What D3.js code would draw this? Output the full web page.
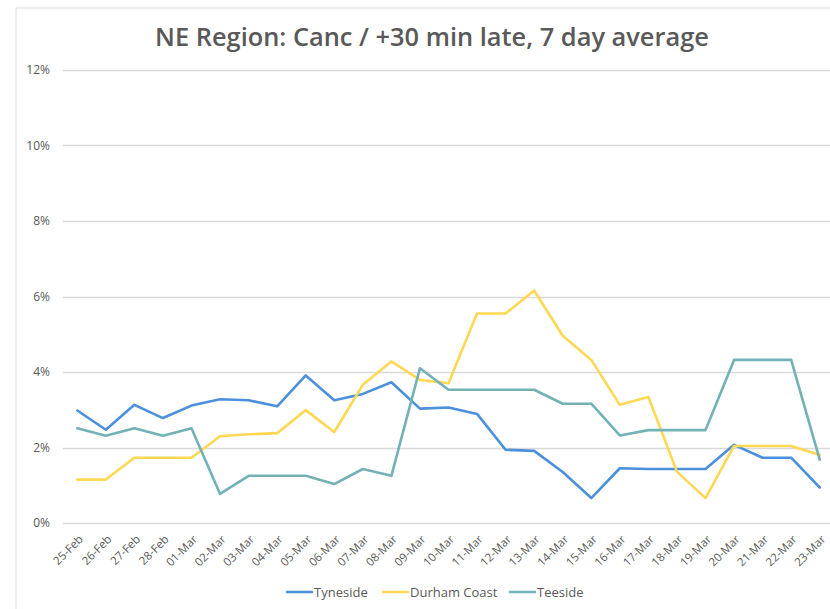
<!DOCTYPE html>
<html>
<head>
<meta charset="utf-8">
<script src="https://cdn.jsdelivr.net/npm/d3@7"></script>
<style>
  html, body { margin: 0; padding: 0; background: #fff; }
  svg { display: block; }
  text { font-family: "Open Sans", "Liberation Sans", sans-serif; }
</style>
</head>
<body>
<svg id="chart" width="830" height="609"></svg>
<script>
const categories = ["25-Feb","26-Feb","27-Feb","28-Feb","01-Mar","02-Mar","03-Mar","04-Mar","05-Mar","06-Mar","07-Mar","08-Mar","09-Mar","10-Mar","11-Mar","12-Mar","13-Mar","14-Mar","15-Mar","16-Mar","17-Mar","18-Mar","19-Mar","20-Mar","21-Mar","22-Mar","23-Mar"];
const tyneside = [2.98,2.47,3.13,2.78,3.11,3.28,3.25,3.09,3.91,3.25,3.42,3.73,3.03,3.06,2.89,1.94,1.91,1.35,0.66,1.45,1.43,1.43,1.43,2.07,1.73,1.73,0.94];
const durhamCoast = [1.15,1.15,1.73,1.73,1.73,2.30,2.35,2.38,2.99,2.41,3.66,4.28,3.79,3.70,5.55,5.55,6.16,4.96,4.32,3.13,3.34,1.36,0.66,2.04,2.04,2.04,1.80];
const teeside = [2.51,2.31,2.51,2.31,2.51,0.77,1.25,1.25,1.25,1.03,1.43,1.25,4.10,3.53,3.53,3.53,3.53,3.16,3.16,2.32,2.46,2.46,2.46,4.32,4.32,4.32,1.68];
const yTicks = [0,2,4,6,8,10,12];
const seriesNames = ["Tyneside","Durham Coast","Teeside"];
const seriesColors = ["#4A90DC","#FFD853","#72B1B6"];
const title = "NE Region: Canc / +30 min late, 7 day average";

const series = [tyneside, durhamCoast, teeside].map((vals, i) => ({name: seriesNames[i], color: seriesColors[i], values: vals}));

const svg = d3.select("#chart");
const plotLeft = 63, plotRight = 834, plotTop = 70, plotBottom = 523;

// chart border
svg.append("path").attr("d", "M16,609 L16,8 L830,8").attr("fill","none").attr("stroke","#d9d9d9").attr("stroke-width",1);

const x = d3.scalePoint().domain(categories).range([plotLeft, plotRight]).padding(0.5);
const y = d3.scaleLinear().domain([0, 12]).range([plotBottom, plotTop]);

// gridlines
svg.append("g").selectAll("line").data(yTicks).join("line")
  .attr("x1", plotLeft).attr("x2", plotRight)
  .attr("y1", d => Math.round(y(d)) + 0.5).attr("y2", d => Math.round(y(d)) + 0.5)
  .attr("stroke", "#d9d9d9").attr("stroke-width", 1.3);

// y axis labels
const yAxis = d3.axisLeft(y).tickValues(yTicks).tickFormat(d => d + "%").tickSize(0).tickPadding(0);
const gy = svg.append("g").attr("transform", `translate(50,0)`).call(yAxis);
gy.select(".domain").remove();
gy.selectAll("text").attr("fill", "#595959").style("font-size", "12px").style("font-family", '"Open Sans", sans-serif');

// x axis labels
const xAxis = d3.axisBottom(x).tickSize(0).tickPadding(0);
const gx = svg.append("g").attr("transform", `translate(0,${plotBottom})`).call(xAxis);
gx.select(".domain").remove();
gx.selectAll("text")
  .attr("fill", "#595959").style("font-size", "11.5px").style("font-family", '"Open Sans", sans-serif')
  .attr("text-anchor", "end").attr("dy", null).attr("y", 0)
  .attr("transform", "translate(6,17) rotate(-45)");

// lines
const line = d3.line().x((d, i) => x(categories[i])).y(d => y(d));
svg.append("g").selectAll("path").data(series).join("path")
  .attr("d", d => line(d.values))
  .attr("fill", "none").attr("stroke", d => d.color).attr("stroke-width", 2.6)
  .attr("stroke-linejoin", "round").attr("stroke-linecap", "round");

// title
const t = svg.append("text").attr("x", 432).attr("y", 46).attr("text-anchor", "middle")
  .attr("fill", "#595959").style("font-size", "24px").style("font-weight", "600").text(title);
const w = t.node().getComputedTextLength();
t.style("font-size", (24 * 554 / w) + "px");

// legend
const legendX = [287, 383, 510];
const lg = svg.append("g").selectAll("g").data(series).join("g")
  .attr("transform", (d, i) => `translate(${legendX[i]},592)`);
lg.append("line").attr("x1", 0).attr("x2", 25).attr("y1", 0).attr("y2", 0)
  .attr("stroke", d => d.color).attr("stroke-width", 2.6).attr("stroke-linecap","round");
lg.append("text").attr("x", 27).attr("y", 5).attr("fill", "#595959").style("font-size", "13px").text(d => d.name);
</script>
</body>
</html>
